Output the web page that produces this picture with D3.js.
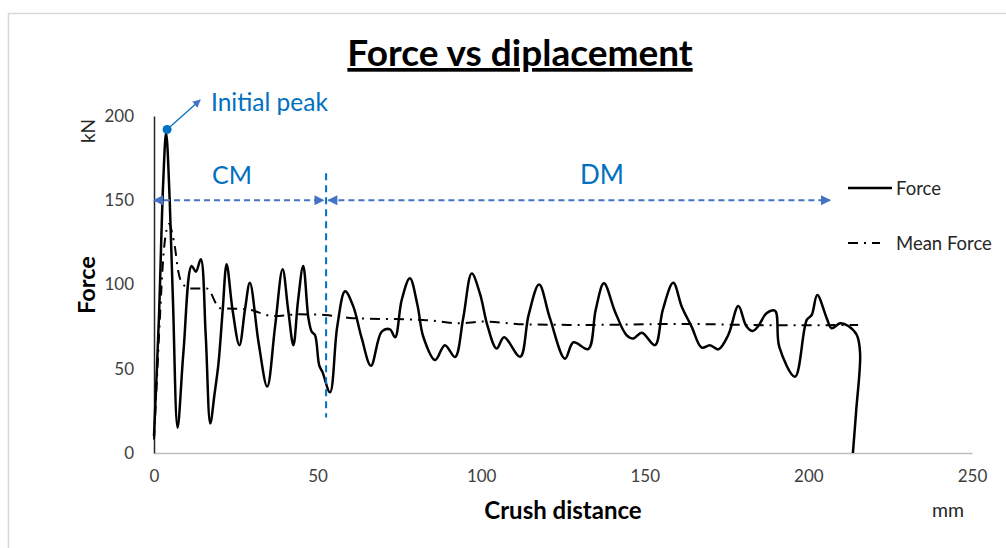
<!DOCTYPE html>
<html>
<head>
<meta charset="utf-8">
<script src="https://cdn.jsdelivr.net/npm/d3@7"></script>
<style>
  html, body { margin: 0; padding: 0; background: #fff; }
  svg { display: block; font-family: Lato, 'Open Sans', sans-serif; }
</style>
</head>
<body>
<div id="chart"></div>
<script>
// crush distance (mm) and force (kN)
const forceX = [0, 1.5, 2.8, 3.7, 4.8, 5.8, 7.2, 9, 11.5, 12.8, 14.3, 15.8, 17.2, 18.5, 19.7, 21, 22.2, 24, 26.1,
  27.8, 29.3, 32, 34.6, 37, 39.3, 41, 42.6, 44, 45.6, 47.2, 48.2, 49.2, 50.5, 51.5, 53.8, 56, 58.4, 60.9, 63.5,
  66.3, 69.6, 72.1, 73.7, 75.7, 78.2, 80.5, 82.3, 85.9, 88.9, 92, 94.5, 97.1, 99.6, 102, 104.7, 107, 111.9, 114.5,
  117.7, 121, 125.6, 128.2, 132.7, 135, 137.5, 140.9, 144.4, 146.5, 149.1, 153.1, 155.5, 158.7, 161.3, 164.3,
  167.4, 169.9, 172.5, 175.5, 178.6, 181, 183, 184.7, 187.2, 189.8, 191.1, 195.9, 199.5, 201, 202.7, 205.6, 207.1,
  209.7, 212.2, 214.8, 215.8, 214.6, 213.6];
const forceY = [10, 80, 160, 190, 150, 90, 15, 60, 111, 107.6, 115, 70, 17.6, 35, 53, 85, 112, 85, 64,
  85, 101, 65, 39.4, 75, 109, 85, 64, 90, 111, 80, 72, 70, 52, 48, 36, 75, 96, 87, 68,
  51.8, 72, 73.4, 68.7, 90.8, 103.7, 88, 69, 55.2, 64, 57, 80, 106.6, 94.7, 75, 62, 68.7, 57.1, 82,
  100, 80, 56, 65.7, 61.7, 85, 100.7, 83.9, 70, 68, 71.4, 64, 85, 101, 86.8, 75,
  62.5, 64, 61.5, 70, 87.2, 75.4, 72.4, 75.4, 82.9, 84.4, 63, 45.3, 79, 81.9, 93.8, 80, 74,
  77, 75.4, 70, 59.2, 25, 0];

const meanX = [0, 0.8, 1.8, 2.8, 3.8, 4.7, 5.6, 6.4, 7.4, 8.5, 11, 16.1, 20.2, 28.3, 36.5, 44.6, 52.3, 60.9,
  82.3, 93.5, 100.6, 113.9, 132.2, 160.8, 190, 215.2];
const meanY = [8, 40, 80, 115, 132, 136, 130, 122, 108, 101, 97.7, 97.7, 85.9, 85.3, 81.3, 82.3, 81.9, 80,
  79, 77, 78, 76.3, 76, 76.6, 75.8, 76];

const xTicks = [0, 50, 100, 150, 200, 250];
const yTicks = [0, 50, 100, 150, 200];

const peak = { x: 4, y: 192 };
const cmRange = [0, 51.8];
const dmRange = [53.3, 206.6];
const splitX = 52.6;

const W = 1006, H = 548;
const margin = { left: 154, right: 34, top: 116, bottom: 95 };

const svg = d3.select('#chart').append('svg').attr('width', W).attr('height', H);

// outer chart frame
svg.append('rect').attr('x', 8.5).attr('y', 13.5).attr('width', 1010).attr('height', 560)
  .attr('fill', 'none').attr('stroke', '#d9d9d9').attr('stroke-width', 1.5);

const x = d3.scaleLinear().domain([0, 250]).range([margin.left, W - margin.right]);
const y = d3.scaleLinear().domain([0, 200]).range([H - margin.bottom, margin.top]);

const xAxis = svg.append('g').attr('transform', `translate(0,${y(0)})`)
  .call(d3.axisBottom(x).tickValues(xTicks).tickSize(0).tickPadding(17));
xAxis.select('.domain').attr('stroke', '#bfbfbf').attr('stroke-width', 1.5);

const yAxis = svg.append('g').attr('transform', `translate(${x(0)},0)`)
  .call(d3.axisLeft(y).tickValues(yTicks).tickSize(0).tickPadding(20));
yAxis.select('.domain').attr('stroke', '#262626').attr('stroke-width', 1.5);

svg.selectAll('.tick text').attr('font-size', 17).attr('fill', '#404040')
  .attr('font-family', 'Lato, sans-serif');

const forceData = forceX.map((d, i) => [d, forceY[i]]);
const meanData = meanX.map((d, i) => [d, meanY[i]]);

const forceLine = d3.line().x(d => x(d[0])).y(d => y(d[1])).curve(d3.curveCatmullRom.alpha(0.5));
const meanLine = d3.line().x(d => x(d[0])).y(d => y(d[1])).curve(d3.curveMonotoneX);

svg.append('path').datum(meanData).attr('d', meanLine)
  .attr('fill', 'none').attr('stroke', '#000').attr('stroke-width', 2)
  .attr('stroke-dasharray', '10,6,2,6');

svg.append('path').datum(forceData).attr('d', forceLine)
  .attr('fill', 'none').attr('stroke', '#000').attr('stroke-width', 2.5)
  .attr('stroke-linejoin', 'round');

// arrow markers
const defs = svg.append('defs');
defs.append('marker').attr('id', 'arrow').attr('viewBox', '0 0 10 10')
  .attr('refX', 9).attr('refY', 5).attr('markerWidth', 8).attr('markerHeight', 8)
  .attr('markerUnits', 'userSpaceOnUse').attr('orient', 'auto-start-reverse')
  .append('path').attr('d', 'M0,0L10,5L0,10z').attr('fill', '#4472c4');
defs.append('marker').attr('id', 'arrowBig').attr('viewBox', '0 0 10 10')
  .attr('refX', 9).attr('refY', 5).attr('markerWidth', 16).attr('markerHeight', 10)
  .attr('markerUnits', 'userSpaceOnUse').attr('orient', 'auto-start-reverse')
  .append('path').attr('d', 'M0,0L10,5L0,10z').attr('fill', '#4472c4');

const blue = '#0070c0';

// initial peak annotation
svg.append('line').attr('x1', x(peak.x)).attr('y1', y(peak.y))
  .attr('x2', x(14.1)).attr('y2', y(209.5))
  .attr('stroke', blue).attr('stroke-width', 1.2).attr('marker-end', 'url(#arrow)');
svg.append('circle').attr('cx', x(peak.x)).attr('cy', y(peak.y)).attr('r', 4.5).attr('fill', blue);
svg.append('text').attr('x', 211).attr('y', 111).attr('font-size', 24.5).attr('fill', blue)
  .text('Initial peak');

// CM / DM ranges
[cmRange, dmRange].forEach(r => {
  svg.append('line').attr('x1', x(r[0])).attr('x2', x(r[1]))
    .attr('y1', y(150)).attr('y2', y(150))
    .attr('stroke', '#4472c4').attr('stroke-width', 2).attr('stroke-dasharray', '6,4')
    .attr('marker-start', 'url(#arrowBig)').attr('marker-end', 'url(#arrowBig)');
});
svg.append('line').attr('x1', x(splitX)).attr('x2', x(splitX))
  .attr('y1', y(166)).attr('y2', y(21))
  .attr('stroke', blue).attr('stroke-width', 2).attr('stroke-dasharray', '7,5');

svg.append('text').attr('x', 232).attr('y', 184).attr('text-anchor', 'middle')
  .attr('font-size', 25).attr('fill', blue).text('CM');
svg.append('text').attr('x', 602).attr('y', 184).attr('text-anchor', 'middle')
  .attr('font-size', 26).attr('fill', blue).text('DM');

// titles
svg.append('text').attr('x', 520).attr('y', 66).attr('text-anchor', 'middle')
  .attr('font-size', 37).attr('font-weight', 'bold').attr('fill', '#000')
  .attr('text-decoration', 'underline').text('Force vs diplacement');

svg.append('text').attr('transform', 'translate(95,285) rotate(-90)').attr('text-anchor', 'middle')
  .attr('font-size', 23.5).attr('font-weight', 'bold').attr('fill', '#000').text('Force');
svg.append('text').attr('transform', 'translate(95,131) rotate(-90)').attr('text-anchor', 'middle')
  .attr('font-size', 19).attr('fill', '#262626').text('kN');

svg.append('text').attr('x', 563).attr('y', 519).attr('text-anchor', 'middle')
  .attr('font-size', 24).attr('font-weight', 'bold').attr('fill', '#000').text('Crush distance');
svg.append('text').attr('x', 948).attr('y', 517).attr('text-anchor', 'middle')
  .attr('font-size', 19.5).attr('fill', '#262626').text('mm');

// legend
const legend = svg.append('g');
legend.append('line').attr('x1', 848).attr('x2', 892).attr('y1', 188).attr('y2', 188)
  .attr('stroke', '#000').attr('stroke-width', 2.5);
legend.append('text').attr('x', 896).attr('y', 195).attr('font-size', 18.5).attr('fill', '#262626').text('Force');
legend.append('line').attr('x1', 848).attr('x2', 880).attr('y1', 243).attr('y2', 243)
  .attr('stroke', '#000').attr('stroke-width', 2).attr('stroke-dasharray', '10,6,2,6');
legend.append('text').attr('x', 896).attr('y', 250).attr('font-size', 18.5).attr('fill', '#262626').text('Mean Force');
</script>
</body>
</html>
